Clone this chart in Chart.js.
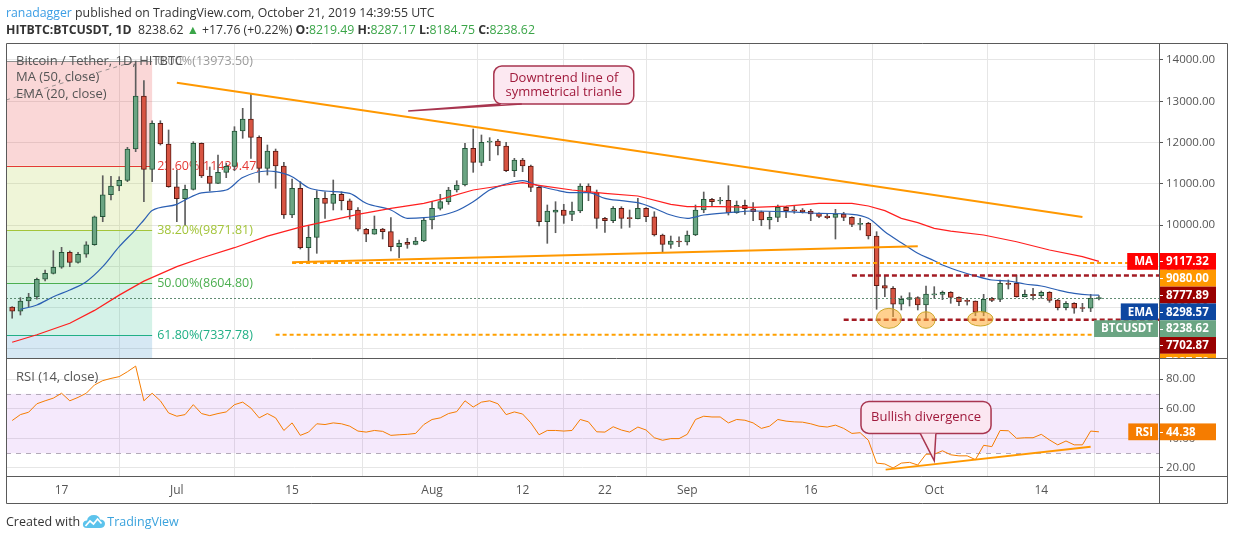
<!DOCTYPE html>
<html>
<head>
<meta charset="utf-8">
<script src="https://cdn.jsdelivr.net/npm/chart.js@4.4.1/dist/chart.umd.min.js"></script>
<style>
    body { margin: 0; background: #fff; font-family: "Open Sans", sans-serif; }
    #wrap { position: relative; width: 1234px; height: 540px; overflow: hidden; }
    #chart { position: absolute; left: 0; top: 0; }
    .hdr { position: absolute; left: 6px; font-size: 12.3px; color: #333; white-space: nowrap; line-height: 18px; }
    .hdr b { font-weight: 700; }
    .g { color: #3aa548; }
    .user { color: #3c9ee5; }
    #footer { position: absolute; left: 6px; top: 513px; font-size: 12.5px; color: #333; white-space: nowrap; line-height: 18px; }
    #footer svg { vertical-align: -3px; margin: 0 1px 0 2px; }
    #footer .tv { color: #3ba3dd; }
</style>
</head>
<body>
<div id="wrap">
    <canvas id="chart" width="1234" height="540"></canvas>
    <div class="hdr" style="top:4px"><span class="user">ranadagger</span> published on TradingView.com, October 21, 2019 14:39:55 UTC</div>
    <div class="hdr" style="top:21px" id="ohlc"></div>
    <div id="footer">Created with<svg width="24" height="15" viewBox="0 0 24 15"><path d="M5 14 Q0 14 1 9 Q2 6 5 6.5 Q6 1 12 1 Q17 1 18 5.5 Q23 5.5 23 10 Q22.5 14 18 14 Z" fill="#5cc3ec"/><path d="M3.5 12 L8 7 L11.5 10 L15.5 5 L19.5 9.5" stroke="#fff" stroke-width="1.7" fill="none"/></svg><span class="tv">TradingView</span></div>
</div>
<script>
/**
 * BTC/USDT daily chart with MA, EMA, RSI and drawings
 */

const FONT = '"Open Sans", sans-serif';

// Daily candles from 2019-06-11 (index 0) to 2019-10-21 (index 132)
const opens = [8012,7910,8158,8255,8684,8829,8975,9338,9096,9290,
    9522,10201,10734,10945,11083,11842,13127,11350,12465,11963,
    10928,10638,10865,11980,11188,11011,11277,11423,12279,12569,
    12126,11374,11794,11430,10242,10889,9450,9702,10647,10526,
    10744,10589,10364,9896,9775,9903,9838,9474,9580,9532,
    9612,10121,10405,10565,10848,10970,11859,11520,12005,12036,
    11915,11316,11575,11430,10914,10080,10310,10364,10259,10339,
    10945,10783,10162,10105,10405,10178,10153,10405,10201,9758,
    9532,9612,9588,9758,10364,10623,10590,10600,10298,10477,
    10395,10322,10121,10186,10429,10364,10364,10339,10283,10218,
    10186,10267,10186,10017,10040,9733,8529,8466,8078,8199,
    8238,8061,8310,8320,8370,8247,8170,8158,7884,8223,
    8199,8587,8587,8262,8320,8287,8368,8182,7996,8102,
    7996,7981,8219.49];
const highs = [8020,8240,8344,8715,8909,9377,9459,9370,9338,9595,
    10218,11195,11180,11171,11883,13973.5,13498,12528,12528,12303,
    11333,10970,12020,11990,11406,11697,11496,12383,12829,13192,
    12160,11939,11842,11520,11115,11050,9983,10832,10807,11091,
    10807,10630,10420,9920,10218,9920,10177,9636,9678,9700,
    10162,10565,10744,10914,11074,11980,12327,12182,12117,12077,
    12005,11617,11617,11454,10945,10485,10565,10502,10557,11000,
    11000,10848,10186,10444,10444,10364,10647,10420,10322,9780,
    9733,9716,9855,10485,10800,10647,10671,10953,10582,10606,
    10541,10339,10322,10485,10444,10468,10400,10380,10298,10270,
    10380,10308,10200,10160,10065,9838,8764,8505,8279,8359,
    8262,8521,8505,8400,8384,8260,8222,8160,8320,8247,
    8667,8667,8788,8424,8465,8400,8384,8198,8141,8117,
    8102,8320,8287.17];
const lows = [7740,7818,8020,8200,8643,8812,8950,8989,9072,9217,
    9508,10080,10606,10831,11050,11777,10565,11050,11939,10914,
    10080,10000,10848,11150,10824,11000,11147,11316,12102,11617,
    11035,11212,10890,10162,10177,9418,9127,9314,10162,10364,
    10364,10145,9855,9595,9775,9661,9370,9207,9435,9520,
    9595,9903,10364,10500,10800,10950,11277,11437,11559,11697,
    11290,11171,11292,10807,9976,9556,9813,10040,10105,10298,
    10589,9920,9823,10056,9920,9944,10150,10080,9733,9353,
    9435,9474,9515,9741,10298,10468,10509,10242,10283,10259,
    10104,9983,9903,10080,10177,10283,10290,10105,10177,10150,
    9661,10105,9960,9880,9661,7957,8262,7777,7940,8036,
    7940,7721,8222,8190,8102,8044,8060,7800,7800,8141,
    8141,8449,8250,8255,8182,8222,8126,7940,7940,7860,
    7900,7900,8184.75];
const closes = [7910,8158,8255,8684,8829,8975,9338,9096,9290,9522,
    10201,10734,10945,11083,11842,13127,11350,12465,11963,10928,
    10638,10865,11980,11188,11011,11277,11423,12279,12569,12126,
    11374,11794,11430,10242,10889,9450,9702,10647,10526,10744,
    10589,10364,9896,9775,9903,9838,9474,9556,9532,9612,
    10121,10405,10565,10848,10970,11859,11520,12005,12036,11915,
    11316,11575,11430,10914,10080,10339,10364,10235,10339,10945,
    10783,10162,10105,10405,10162,10153,10405,10201,9758,9532,
    9612,9588,9758,10364,10623,10565,10600,10298,10477,10395,
    10322,10121,10186,10429,10347,10347,10322,10267,10210,10177,
    10267,10186,10017,10040,9733,8529,8466,8078,8199,8238,
    8061,8327,8330,8370,8247,8141,8150,7884,8199,8174,
    8587,8562,8262,8320,8287,8368,8174,7996,8102,7981,
    7981,8220.86,8238.62];

// MA (50) and EMA (20) at these day indexes
const maDays = [0,3,7,10,13,16,20,23,27,31,35,38,42,46,50,52,56,60,62,64,68,72,76,80,82,86,90,94,98,102,104,106,108,110,112,114,118,122,126,130,132];
const maValues = [7157,7340,7617,7930,8300,8640,8990,9200,9450,9730,9950,10080,10259,10405,10526,10623,10848,10970,11025,10960,10848,10768,10703,10501,10444,10444,10429,10460,10526,10526,10460,10347,10162,10056,9920,9850,9758,9595,9394,9232,9117.32];
const emaDays = [1,3,5,7,9,11,13,15,16,17,20,21,23,26,28,31,32,34,36,38,41,43,46,48,50,52,54,56,58,60,62,64,66,68,70,72,74,76,78,80,82,84,87,90,94,98,102,104,106,108,110,112,113,115,117,119,121,123,125,127,129,131,132];
const emaValues = [7956,8061,8262,8424,8626,8989,9474,9890,10121,10350,10501,10606,10780,10848,11150,11309,11292,11171,10904,10824,10768,10526,10364,10162,10177,10230,10347,10565,10848,10994,11074,10945,10848,10783,10783,10647,10589,10541,10405,10242,10162,10242,10298,10339,10322,10283,10259,10162,9838,9571,9314,9135,9030,8885,8764,8667,8643,8570,8521,8424,8344,8303,8298.57];

// RSI (14)
const rsiValues = [52,56,57.6,63.3,65.3,67.1,70.4,65.3,67.6,70.4,
    76,78.9,80.4,81.6,84.9,88.7,65.3,70.4,65.3,57.1,
    54.9,56,62.7,56.7,55.3,56.7,57.8,62.7,64.4,60.4,
    53.8,56.7,53.8,45.3,50.4,42,44.2,49.8,49.3,50.4,
    49.8,48.2,44.9,44.2,45.3,44.7,42,42.4,42.7,43.3,
    49.3,52.7,53.8,56.7,58,65.3,61.1,64.4,65.3,63.3,
    56,57.8,56.4,50.4,42.4,45.3,45.3,44.9,45.3,52.7,
    51.1,44.4,44.2,47.8,45.6,44.2,47.6,45.6,40.4,38.7,
    39.8,39.8,42.7,52.7,54.9,54.4,54.4,50.4,52.7,52.2,
    50.4,46.7,48.2,52.7,51.6,51.1,50.9,49.8,48.2,47.6,
    48.9,46.7,43.3,43.8,38.7,23.3,22.7,20,23.3,23.8,
    22,29.3,29.3,31.6,28.9,28.2,28.2,25.6,35.3,34.4,
    45.3,45.1,40,40.4,40.4,42.7,38.9,35.6,38.2,35.6,
    35.6,44.9,44.38];

// Axis ticks
const dateTickDays = [6,20,34,51,62,72,82,97,112,125];
const dateTickLabels = ['17','Jul','15','Aug','12','22','Sep','16','Oct','14'];
const priceTicks = [7000,8000,9000,10000,11000,12000,13000,14000];
const rsiTicks = [20,40,60,80];

// Fibonacci retracement
const fibLevels = [13973.50, 11439.47, 9871.81, 8604.80, 7337.78, 5534.20];
const fibNames = ['0.00%', '23.60%', '38.20%', '50.00%', '61.80%'];

// Price levels shown on the right axis
const levelValues = [9117.32, 9080.00, 8777.89, 8298.57, 8238.62, 7702.87, 7337.78];
const levelNames = ['MA', '', '', 'EMA', 'BTCUSDT', '', ''];

/**
 * Header with the last candle values
 */
function fillHeader() {
    const n = closes.length - 1;
    const change = closes[n] - closes[n - 1];
    const pct = change / closes[n - 1] * 100;
    const f = v => v.toFixed(2);
    document.getElementById('ohlc').innerHTML =
        `<b>HITBTC:BTCUSDT, 1D</b>&nbsp; ${f(closes[n])} <span class="g">&#9650;</span> +${f(change)} (+${f(pct)}%) ` +
        `<b>O:</b><span class="g">${f(opens[n])}</span> <b>H:</b><span class="g">${f(highs[n])}</span> ` +
        `<b>L:</b><span class="g">${f(lows[n])}</span> <b>C:</b><span class="g">${f(closes[n])}</span>`;
}

/**
 * Draws a rounded callout box with a tail
 */
function drawCallout(ctx, box, tail, lines) {
    const r = 8;
    ctx.save();
    ctx.fillStyle = 'rgba(252, 231, 240, 0.95)';
    ctx.strokeStyle = '#a8354f';
    ctx.lineWidth = 1.5;
    ctx.beginPath();
    ctx.roundRect(box.x1, box.y1, box.x2 - box.x1, box.y2 - box.y1, r);
    ctx.fill();
    ctx.stroke();
    // tail
    ctx.beginPath();
    ctx.moveTo(tail.a.x, tail.a.y);
    ctx.lineTo(tail.tip.x, tail.tip.y);
    ctx.lineTo(tail.b.x, tail.b.y);
    ctx.closePath();
    ctx.fill();
    ctx.beginPath();
    ctx.moveTo(tail.a.x, tail.a.y);
    ctx.lineTo(tail.tip.x, tail.tip.y);
    ctx.lineTo(tail.b.x, tail.b.y);
    ctx.stroke();
    ctx.fillStyle = '#a01a3c';
    ctx.font = '13px ' + FONT;
    ctx.textAlign = 'center';
    ctx.textBaseline = 'middle';
    const cx = (box.x1 + box.x2) / 2;
    const cy = (box.y1 + box.y2) / 2;
    lines.forEach((t, k) => {
        ctx.fillText(t, cx, cy + (k - (lines.length - 1) / 2) * 14);
    });
    ctx.restore();
}

/**
 * Axis label with optional name box to its left
 */
function drawBadge(ctx, x0, cy, h, text, name, color) {
    ctx.save();
    ctx.font = 'bold 11.5px ' + FONT;
    ctx.textBaseline = 'middle';
    ctx.fillStyle = color;
    ctx.fillRect(x0 + 1, cy - h / 2, 56, h);
    ctx.strokeStyle = '#fff';
    ctx.lineWidth = 1;
    ctx.beginPath();
    ctx.moveTo(x0 + 1, Math.round(cy) + 0.5);
    ctx.lineTo(x0 + 4, Math.round(cy) + 0.5);
    ctx.stroke();
    ctx.fillStyle = '#fff';
    ctx.textAlign = 'left';
    ctx.fillText(text, x0 + 7, cy + 0.5);
    if (name) {
        const w = ctx.measureText(name).width + 12;
        ctx.fillStyle = color;
        ctx.fillRect(x0 - 1 - w, cy - h / 2, w, h);
        ctx.fillStyle = '#fff';
        ctx.textAlign = 'right';
        ctx.fillText(name, x0 - 6, cy + 0.5);
    }
    ctx.restore();
}

/**
 * Plugin that paints the TradingView drawings
 */
const drawingsPlugin = {
    id: 'drawings',
    beforeDatasetsDraw(chart) {
        const { ctx, chartArea } = chart;
        const xs = chart.scales.x, ys = chart.scales.y, yr = chart.scales.yRsi;

        // Fibonacci zones
        ctx.save();
        ctx.beginPath();
        ctx.rect(chartArea.left, ys.top, chartArea.width, ys.bottom - ys.top);
        ctx.clip();
        const fibRight = xs.getPixelForValue(17);
        const zoneColors = ['rgba(229, 57, 53, 0.2)', 'rgba(175, 205, 60, 0.2)', 'rgba(76, 200, 70, 0.2)',
            'rgba(40, 190, 140, 0.2)', 'rgba(50, 140, 200, 0.2)'];
        const lineColors = ['#8f8f8f', '#e53935', '#a3c43a', '#4caf50', '#21b086'];
        for (let k = 0; k < zoneColors.length; k++) {
            const yA = ys.getPixelForValue(fibLevels[k]);
            const yB = ys.getPixelForValue(fibLevels[k + 1]);
            ctx.fillStyle = zoneColors[k];
            ctx.fillRect(chartArea.left, yA, fibRight - chartArea.left, yB - yA);
        }
        ctx.font = '12.5px ' + FONT;
        ctx.textBaseline = 'middle';
        ctx.textAlign = 'left';
        for (let k = 0; k < fibNames.length; k++) {
            const y = Math.round(ys.getPixelForValue(fibLevels[k])) + 0.5;
            ctx.strokeStyle = lineColors[k];
            ctx.lineWidth = 1;
            ctx.beginPath();
            ctx.moveTo(chartArea.left, y);
            ctx.lineTo(fibRight, y);
            ctx.stroke();
            ctx.fillStyle = k === 0 ? 'rgba(130,130,130,0.8)' : lineColors[k];
            ctx.fillText(`${fibNames[k]}(${fibLevels[k].toFixed(2)})`, fibRight + 5, y);
        }
        ctx.restore();

        // RSI band
        ctx.save();
        const y70 = yr.getPixelForValue(70), y30 = yr.getPixelForValue(30);
        ctx.fillStyle = 'rgba(156, 39, 230, 0.1)';
        ctx.fillRect(chartArea.left, y70, chartArea.width, y30 - y70);
        ctx.strokeStyle = '#b3aab9';
        ctx.setLineDash([5, 5]);
        ctx.lineWidth = 1;
        [y70, y30].forEach(y => {
            ctx.beginPath();
            ctx.moveTo(chartArea.left, Math.round(y) + 0.5);
            ctx.lineTo(chartArea.right, Math.round(y) + 0.5);
            ctx.stroke();
        });
        ctx.restore();
    },
    afterDatasetsDraw(chart) {
        const { ctx, chartArea } = chart;
        const xs = chart.scales.x, ys = chart.scales.y, yr = chart.scales.yRsi;
        const X = v => xs.getPixelForValue(v);
        const Y = v => ys.getPixelForValue(v);
        const R = v => yr.getPixelForValue(v);

        ctx.save();
        ctx.beginPath();
        ctx.rect(chartArea.left, ys.top, chartArea.width, ys.bottom - ys.top);
        ctx.clip();

        // fib trend line (dashed)
        ctx.strokeStyle = 'rgba(120,120,120,0.75)';
        ctx.lineWidth = 1;
        ctx.setLineDash([4, 4]);
        ctx.beginPath();
        ctx.moveTo(X(-0.75), Y(13030));
        ctx.lineTo(X(15), Y(13973.5));
        ctx.stroke();

        // current price line (dotted)
        ctx.strokeStyle = 'rgba(70, 120, 90, 0.85)';
        ctx.setLineDash([2, 2]);
        ctx.beginPath();
        const yLast = Math.round(Y(closes[closes.length - 1])) + 0.5;
        ctx.moveTo(chartArea.left, yLast);
        ctx.lineTo(chartArea.right, yLast);
        ctx.stroke();

        // horizontal levels
        const hLines = [
            { v: 9080.00, from: 34, to: 139.3, color: '#ffa000', w: 2, dash: [4, 3] },
            { v: 8777.89, from: 102, to: 139.3, color: '#a31b24', w: 2.5, dash: [5, 3] },
            { v: 7702.87, from: 101, to: 139.3, color: '#a31b24', w: 2.5, dash: [5, 3] },
            { v: 7337.78, from: 32, to: 132.3, color: '#ffa000', w: 2, dash: [4, 3] }
        ];
        hLines.forEach(h => {
            ctx.strokeStyle = h.color;
            ctx.lineWidth = h.w;
            ctx.setLineDash(h.dash);
            ctx.beginPath();
            ctx.moveTo(X(h.from), Y(h.v));
            ctx.lineTo(X(h.to), Y(h.v));
            ctx.stroke();
        });

        // triangle trend lines
        ctx.setLineDash([]);
        ctx.strokeStyle = '#ff9800';
        ctx.lineWidth = 2;
        ctx.beginPath();
        ctx.moveTo(X(20), Y(13449));
        ctx.lineTo(X(130), Y(10194));
        ctx.moveTo(X(34), Y(9096));
        ctx.lineTo(X(110), Y(9484));
        ctx.stroke();

        // highlighted lows
        const ellipses = [[106.5, 7738, 1.52, 242], [111, 7697, 1.1, 201], [117.6, 7726, 1.54, 175]];
        ellipses.forEach(e => {
            const cx = X(e[0]), cy = Y(e[1]);
            const rx = X(e[0] + e[2]) - cx, ry = cy - Y(e[1] + e[3]);
            ctx.beginPath();
            ctx.ellipse(cx, cy, rx, ry, 0, 0, Math.PI * 2);
            ctx.fillStyle = 'rgba(255, 170, 50, 0.55)';
            ctx.fill();
            ctx.strokeStyle = '#c9a62a';
            ctx.lineWidth = 1;
            ctx.stroke();
        });
        ctx.restore();

        // callout on the price pane
        drawCallout(ctx,
            { x1: X(58.5), y1: Y(13854), x2: X(75.5), y2: Y(12933) },
            { a: { x: X(59.3), y: Y(12933) }, tip: { x: X(48.1), y: Y(12763) }, b: { x: X(61.9), y: Y(12933) } },
            ['Downtrend line of', 'symmetrical trianle']);

        // RSI divergence line
        ctx.save();
        ctx.strokeStyle = '#ff9800';
        ctx.lineWidth = 2;
        ctx.beginPath();
        ctx.moveTo(X(106.1), R(18.9));
        ctx.lineTo(X(131), R(34.4));
        ctx.stroke();
        ctx.restore();

        drawCallout(ctx,
            { x1: X(103.1), y1: R(64.9), x2: X(118.9), y2: R(43.3) },
            { a: { x: X(110.3), y: R(43.3) }, tip: { x: X(112), y: R(24.9) }, b: { x: X(112.2), y: R(43.3) } },
            ['Bullish divergence']);

        // pane titles
        ctx.save();
        ctx.fillStyle = '#555';
        ctx.font = '13px ' + FONT;
        ctx.textBaseline = 'middle';
        ctx.textAlign = 'left';
        ctx.fillText('Bitcoin / Tether, 1D, HITBTC', chartArea.left + 10, ys.top + 18);
        ctx.fillText('MA (50, close)', chartArea.left + 10, ys.top + 34.5);
        ctx.fillText('EMA (20, close)', chartArea.left + 10, ys.top + 51);
        ctx.fillText('RSI (14, close)', chartArea.left + 10, yr.top + 19);
        ctx.restore();
    },
    afterDraw(chart) {
        const { ctx, chartArea } = chart;
        const ys = chart.scales.y, yr = chart.scales.yRsi;
        const right = 1227;

        // frame
        ctx.save();
        ctx.strokeStyle = '#5a5a5a';
        ctx.lineWidth = 1;
        ctx.beginPath();
        ctx.rect(chartArea.left + 0.5, ys.top + 0.5, right - chartArea.left, 503 - ys.top);
        ctx.moveTo(chartArea.left, Math.round(ys.bottom) + 0.5);
        ctx.lineTo(right, Math.round(ys.bottom) + 0.5);
        ctx.moveTo(chartArea.left, Math.round(chartArea.bottom) + 0.5);
        ctx.lineTo(right, Math.round(chartArea.bottom) + 0.5);
        ctx.moveTo(Math.round(chartArea.right) + 0.5, ys.top);
        ctx.lineTo(Math.round(chartArea.right) + 0.5, 503);
        ctx.stroke();
        ctx.restore();

        // price badges, pushed apart so they do not overlap
        const colors = ['#ff0000', '#ff9800', '#990000', '#0d47a1', '#6ba583', '#990000', '#ff9800'];
        const h = 16.8;
        let prev = -Infinity;
        ctx.save();
        ctx.beginPath();
        ctx.rect(0, ys.top, 1234, ys.bottom - ys.top);
        ctx.clip();
        levelValues.forEach((v, k) => {
            const cy = Math.max(ys.getPixelForValue(v), prev + h);
            prev = cy;
            drawBadge(ctx, chartArea.right, cy, h, v.toFixed(2), levelNames[k], colors[k]);
        });
        ctx.restore();

        // RSI badge
        const last = rsiValues[rsiValues.length - 1];
        drawBadge(ctx, chartArea.right, yr.getPixelForValue(last), h, last.toFixed(2), 'RSI', '#f57c00');
    }
};

/**
 * Build and render the chart
 */
function initChart() {
    fillHeader();

    const upFill = '#6ba583', downFill = '#d75442';
    const upLine = '#225437', downLine = '#5b1a13';
    const isUp = closes.map((c, i) => c >= opens[i]);

    const wickData = lows.map((l, i) => ({ x: i, y: [l, highs[i]] }));
    const bodyData = opens.map((o, i) => {
        let lo = Math.min(o, closes[i]);
        let hi = Math.max(o, closes[i]);
        // keep dojis visible as a thin bar
        if (hi - lo < 24) {
            const m = (hi + lo) / 2;
            lo = m - 12;
            hi = m + 12;
        }
        return { x: i, y: [lo, hi] };
    });

    new Chart(document.getElementById('chart'), {
        type: 'bar',
        data: {
            datasets: [
                {
                    type: 'bar',
                    data: wickData,
                    backgroundColor: '#5d5d5d',
                    barThickness: 1,
                    grouped: false,
                    yAxisID: 'y',
                    order: 3
                },
                {
                    type: 'bar',
                    data: bodyData,
                    backgroundColor: isUp.map(u => u ? upFill : downFill),
                    borderColor: isUp.map(u => u ? upLine : downLine),
                    borderWidth: 1,
                    borderSkipped: false,
                    barThickness: 5,
                    grouped: false,
                    yAxisID: 'y',
                    order: 2
                },
                {
                    type: 'line',
                    data: maDays.map((d, k) => ({ x: d, y: maValues[k] })),
                    borderColor: '#ff1f1f',
                    borderWidth: 1.2,
                    pointRadius: 0,
                    yAxisID: 'y',
                    order: 1
                },
                {
                    type: 'line',
                    data: emaDays.map((d, k) => ({ x: d, y: emaValues[k] })),
                    borderColor: '#2b5fb3',
                    borderWidth: 1.2,
                    pointRadius: 0,
                    cubicInterpolationMode: 'monotone',
                    yAxisID: 'y',
                    order: 1
                },
                {
                    type: 'line',
                    data: rsiValues.map((v, i) => ({ x: i, y: v })),
                    borderColor: '#f57c00',
                    borderWidth: 1,
                    pointRadius: 0,
                    yAxisID: 'yRsi',
                    order: 1
                }
            ]
        },
        options: {
            responsive: false,
            animation: false,
            layout: { padding: { left: 6, top: 43, right: 7, bottom: 37 } },
            plugins: { legend: { display: false }, tooltip: { enabled: false } },
            scales: {
                x: {
                    type: 'linear',
                    min: -0.75,
                    max: 139.3,
                    offset: false,
                    grid: { color: '#e6e6e6', drawTicks: false },
                    border: { display: false },
                    afterBuildTicks: s => { s.ticks = dateTickDays.map(v => ({ value: v })); },
                    afterFit: s => { s.height = 27; },
                    ticks: {
                        color: '#555',
                        font: { size: 12, family: FONT },
                        padding: 7,
                        maxRotation: 0,
                        autoSkip: false,
                        callback: v => dateTickLabels[dateTickDays.indexOf(v)] || ''
                    }
                },
                y: {
                    position: 'right',
                    stack: 'panes',
                    stackWeight: 315,
                    min: 6776,
                    max: 14412,
                    grid: { color: '#e6e6e6', tickColor: '#555', tickLength: 4 },
                    border: { display: false },
                    afterBuildTicks: s => { s.ticks = priceTicks.map(v => ({ value: v })); },
                    afterFit: s => { s.width = 68; },
                    ticks: {
                        color: '#555',
                        font: { size: 11.5, family: FONT },
                        padding: 3,
                        callback: v => v.toFixed(2)
                    }
                },
                yRsi: {
                    position: 'right',
                    stack: 'panes',
                    stackWeight: 118,
                    min: 14.6,
                    max: 94.16,
                    grid: { color: '#e6e6e6', tickColor: '#555', tickLength: 4 },
                    border: { display: false },
                    afterBuildTicks: s => { s.ticks = rsiTicks.map(v => ({ value: v })); },
                    afterFit: s => { s.width = 68; },
                    ticks: {
                        color: '#555',
                        font: { size: 11.5, family: FONT },
                        padding: 3,
                        callback: v => v.toFixed(2)
                    }
                }
            }
        },
        plugins: [drawingsPlugin]
    });
}

initChart();
</script>
</body>
</html>
